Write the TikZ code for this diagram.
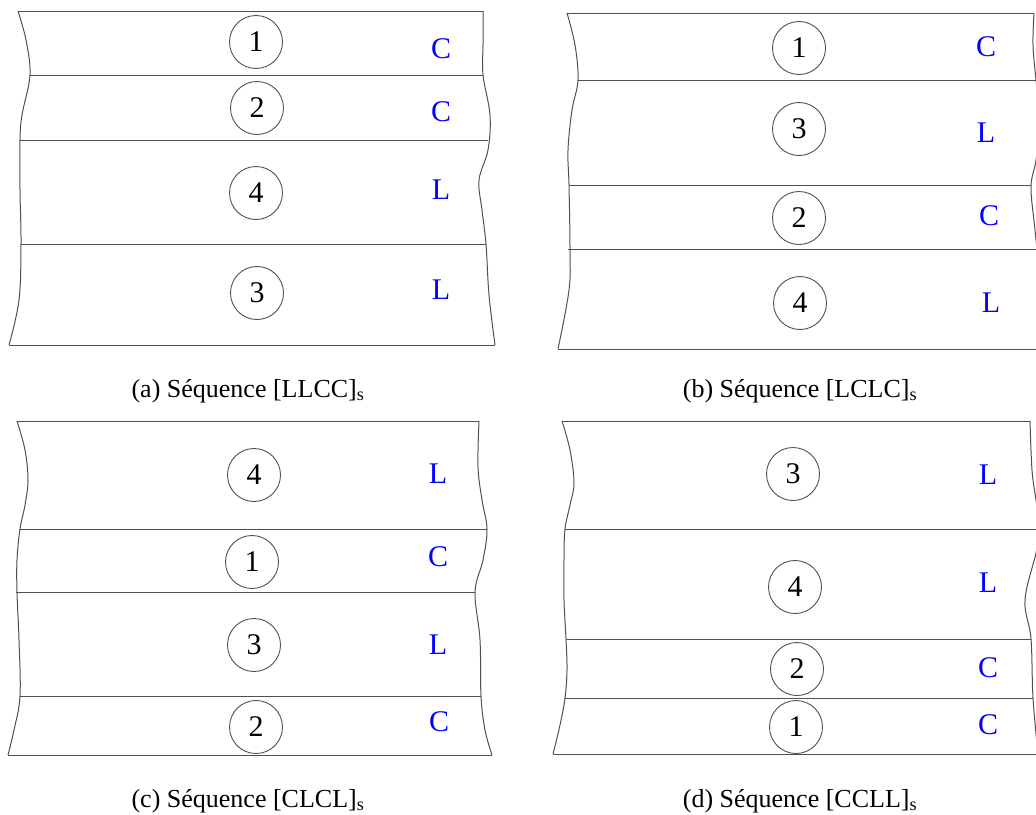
\documentclass[tikz,border=0pt]{standalone}
\usepackage{fontspec}
\setmainfont{Liberation Serif}
\definecolor{plyBlue}{RGB}{0,0,255}
\definecolor{plyEdge}{HTML}{505050}
\tikzset{
  ply/.style={circle, draw=plyEdge, line width=0.9pt, minimum size=53pt,
              inner sep=0pt, font=\fontsize{30}{30}\selectfont},
  ori/.style={text=plyBlue, inner sep=0pt, font=\fontsize{30}{30}\selectfont},
  seqcap/.style={anchor=base, inner sep=0pt, font=\fontsize{26}{30}\selectfont},
  plyline/.style={draw=plyEdge, line width=1pt},
  cutedge/.style={draw=plyEdge, line width=1pt, smooth, tension=0.6},
}
\newcommand{\seq}[2]{(#1) Séquence [#2]\textsubscript{s}}

\begin{document}
\begin{tikzpicture}[x=1pt,y=-1pt]
  \useasboundingbox (0,0) rectangle (1036,814);
  \clip (0,0) rectangle (1036,814);
  % (a) [LLCC]s
  \draw[plyline] (18,11) -- (483,11);
  \draw[plyline] (9,345) -- (495,345);
  \draw[cutedge] plot coordinates {(18,11) (26,40) (30,75) (22,115) (20,140) (20,190) (21,244) (19,300) (9,345)};
  \draw[cutedge] plot coordinates {(483,11) (483,45) (483,75) (490,115) (488,150) (479,180) (482,210) (486,244) (489,295) (495,345)};
  \draw[plyline] (30,75) -- (483,75);
  \draw[plyline] (20,140) -- (488,140);
  \draw[plyline] (21,244) -- (486,244);
  \node[ply] (a1) at (256,42) {1};
  \node[ply] (a2) at (257,108) {2};
  \node[ply] (a4) at (256,193) {4};
  \node[ply] (a3) at (257,293) {3};
  \node[ori] (oa1) at (441,49) {C};
  \node[ori] (oa2) at (441,112) {C};
  \node[ori] (oa4) at (441,190) {L};
  \node[ori] (oa3) at (441,290) {L};
  \node[seqcap] (capa) at (248,397) {\seq{a}{LLCC}};
  % (b) [LCLC]s
  \draw[plyline] (567,13) -- (1034,13);
  \draw[plyline] (558,349) -- (1045,349);
  \draw[cutedge] plot coordinates {(567,13) (575,45) (578,80) (572,110) (568,150) (569,185) (570,249) (569,290) (558,349)};
  \draw[cutedge] plot coordinates {(1034,13) (1033,45) (1036,80) (1040,120) (1036,160) (1031,187) (1035,230) (1041,290) (1045,349)};
  \draw[plyline] (578,80) -- (1040,80);
  \draw[plyline] (569,185) -- (1031,185);
  \draw[plyline] (568,249) -- (1040,249);
  \node[ply] (b1) at (799,48) {1};
  \node[ply] (b3) at (799,129) {3};
  \node[ply] (b2) at (799,218) {2};
  \node[ply] (b4) at (800,303) {4};
  \node[ori] (ob1) at (986,47) {C};
  \node[ori] (ob3) at (986,133) {L};
  \node[ori] (ob2) at (989,216) {C};
  \node[ori] (ob4) at (991,303) {L};
  \node[seqcap] (capb) at (800,397) {\seq{b}{LCLC}};
  % (c) [CLCL]s
  \draw[plyline] (17,421) -- (479,421);
  \draw[plyline] (8,755) -- (492,755);
  \draw[cutedge] plot coordinates {(17,421) (25,450) (28,480) (25,505) (20,529) (17,560) (17,592) (19,640) (20,696) (14,730) (8,755)};
  \draw[cutedge] plot coordinates {(479,421) (478,467) (482,500) (487,529) (483,560) (475,592) (480,640) (481,696) (485,730) (492,755)};
  \draw[plyline] (20,529) -- (487,529);
  \draw[plyline] (16,592) -- (475,592);
  \draw[plyline] (20,696) -- (481,696);
  \node[ply] (c4) at (254,475) {4};
  \node[ply] (c1) at (252,562) {1};
  \node[ply] (c3) at (254,645) {3};
  \node[ply] (c2) at (256,727) {2};
  \node[ori] (oc4) at (438,474) {L};
  \node[ori] (oc1) at (438,557) {C};
  \node[ori] (oc3) at (438,645) {L};
  \node[ori] (oc2) at (439,722) {C};
  \node[seqcap] (capc) at (248,807) {\seq{c}{CLCL}};
  % (d) [CCLL]s
  \draw[plyline] (562,421) -- (1030,421);
  \draw[plyline] (553,754) -- (1038,754);
  \draw[cutedge] plot coordinates {(562,421) (570,450) (574,483) (570,505) (565,529) (564,560) (564,600) (566,639) (567,670) (565,698) (560,725) (553,754)};
  \draw[cutedge] plot coordinates {(1030,421) (1032,470) (1036,500) (1040,529) (1036,553) (1025,600) (1031,639) (1033,698) (1038,754)};
  \draw[plyline] (565,529) -- (1040,529);
  \draw[plyline] (566,639) -- (1031,639);
  \draw[plyline] (565,698) -- (1033,698);
  \node[ply] (d3) at (793,474) {3};
  \node[ply] (d4) at (795,587) {4};
  \node[ply] (d2) at (797,669) {2};
  \node[ply] (d1) at (796,727) {1};
  \node[ori] (od3) at (988,475) {L};
  \node[ori] (od4) at (988,583) {L};
  \node[ori] (od2) at (988,668) {C};
  \node[ori] (od1) at (988,725) {C};
  \node[seqcap] (capd) at (800,807) {\seq{d}{CCLL}};
\end{tikzpicture}
\end{document}
